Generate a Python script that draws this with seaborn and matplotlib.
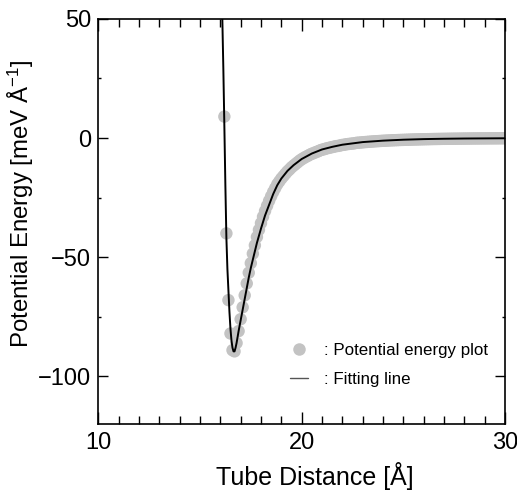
import matplotlib
matplotlib.use("Agg")
import matplotlib.pyplot as plt
import seaborn as sns
import pandas as pd
from matplotlib.ticker import MultipleLocator
from matplotlib.lines import Line2D

# ---- data ----
point_x = [16.2, 16.3, 16.4, 16.5, 16.6, 16.7, 16.8, 16.9, 17.0, 17.1,
           17.2, 17.3, 17.4, 17.5, 17.6, 17.7, 17.8, 17.9, 18.0, 18.1,
           18.2, 18.3, 18.4, 18.5, 18.6, 18.7, 18.8, 18.9, 19.0, 19.1,
           19.2, 19.3, 19.4, 19.5, 19.6, 19.7, 19.8, 19.9, 20.0, 20.1,
           20.2, 20.3, 20.4, 20.5, 20.6, 20.7, 20.8, 20.9, 21.0, 21.1,
           21.2, 21.3, 21.4, 21.5, 21.6, 21.7, 21.8, 21.9, 22.0, 22.1,
           22.2, 22.3, 22.4, 22.5, 22.6, 22.7, 22.8, 22.9, 23.0, 23.1,
           23.2, 23.3, 23.4, 23.5, 23.6, 23.7, 23.8, 23.9, 24.0, 24.1,
           24.2, 24.3, 24.4, 24.5, 24.6, 24.7, 24.8, 24.9, 25.0, 25.1,
           25.2, 25.3, 25.4, 25.5, 25.6, 25.7, 25.8, 25.9, 26.0, 26.1,
           26.2, 26.3, 26.4, 26.5, 26.6, 26.7, 26.8, 26.9, 27.0, 27.1,
           27.2, 27.3, 27.4, 27.5, 27.6, 27.7, 27.8, 27.9, 28.0, 28.1,
           28.2, 28.3, 28.4, 28.5, 28.6, 28.7, 28.8, 28.9, 29.0, 29.1,
           29.2, 29.3, 29.4, 29.5, 29.6, 29.7, 29.8, 29.9, 30.0]
point_y = [9.0, -40.0, -68.0, -82.0, -89.0, -89.5, -86.0, -81.0, -76.0, -71.0,
           -66.0, -61.0, -56.5, -52.5, -48.5, -45.0, -41.5, -38.5, -35.7, -33.0,
           -30.6, -28.4, -26.3, -24.4, -22.6, -21.0, -19.4, -18.2, -17.0, -16.0,
           -15.0, -14.0, -13.2, -12.3, -11.6, -10.9, -10.2, -9.5, -8.9, -8.4,
           -7.9, -7.5, -7.0, -6.6, -6.3, -5.9, -5.6, -5.2, -4.9, -4.7,
           -4.4, -4.2, -4.0, -3.8, -3.6, -3.4, -3.3, -3.1, -2.9, -2.8,
           -2.6, -2.5, -2.4, -2.3, -2.2, -2.0, -1.95, -1.87, -1.79, -1.71,
           -1.64, -1.57, -1.51, -1.44, -1.38, -1.32, -1.27, -1.21, -1.16, -1.11,
           -1.07, -1.02, -0.98, -0.94, -0.90, -0.87, -0.83, -0.80, -0.77, -0.74,
           -0.71, -0.68, -0.65, -0.62, -0.60, -0.58, -0.55, -0.53, -0.51, -0.49,
           -0.47, -0.45, -0.43, -0.41, -0.40, -0.38, -0.37, -0.35, -0.34, -0.33,
           -0.31, -0.30, -0.29, -0.28, -0.27, -0.26, -0.25, -0.24, -0.23, -0.22,
           -0.21, -0.20, -0.19, -0.18, -0.18, -0.17, -0.16, -0.16, -0.15, -0.15,
           -0.14, -0.13, -0.13, -0.12, -0.12, -0.11, -0.11, -0.10, -0.10]

fit_x = [16.06, 16.1, 16.15, 16.2, 16.25, 16.3, 16.35, 16.4, 16.45, 16.5,
         16.55, 16.6, 16.65, 16.7, 16.75, 16.8, 16.85, 16.9, 17.0, 17.1,
         17.2, 17.3, 17.4, 17.5, 17.6, 17.8, 18.0, 18.2, 18.4, 18.6,
         18.8, 19.0, 19.3, 19.6, 20.0, 20.5, 21.0, 21.5, 22.0, 23.0,
         24.0, 25.0, 26.0, 27.0, 28.0, 29.0, 30.0]
fit_y = [70.0, 50.0, 29.0, 5.0, -20.0, -42.0, -55.0, -64.0, -73.0, -80.0,
         -85.0, -88.0, -89.5, -89.5, -88.0, -86.0, -83.5, -81.0, -76.5, -72.0,
         -67.5, -63.0, -58.5, -54.5, -51.0, -44.0, -38.0, -32.5, -28.0, -23.5,
         -19.8, -17.0, -13.8, -11.4, -8.8, -6.5, -4.8, -3.7, -2.8, -1.7,
         -1.1, -0.7, -0.45, -0.3, -0.2, -0.15, -0.1]

x_ticks = [10, 20, 30]
y_ticks = [-100, -50, 0, 50]

points = pd.DataFrame({"x": point_x, "y": point_y})
fit = pd.DataFrame({"x": fit_x, "y": fit_y})

sns.set_style("ticks")
plt.rcParams["font.family"] = ["Liberation Sans", "DejaVu Sans"]
plt.rcParams["mathtext.fontset"] = "custom"
plt.rcParams["mathtext.rm"] = "Liberation Sans"
plt.rcParams["mathtext.it"] = "Liberation Sans"
plt.rcParams["axes.unicode_minus"] = True
for key in ["text.color", "axes.labelcolor", "xtick.color", "ytick.color",
            "axes.edgecolor"]:
    plt.rcParams[key] = "black"

fig = plt.figure(figsize=(5.17, 4.96), dpi=100)
ax = fig.add_axes([0.19, 0.145, 0.787, 0.817])

point_color = "#c3c3c3"
sns.scatterplot(data=points, x="x", y="y", ax=ax, color=point_color, s=80,
                edgecolor="none", linewidth=0, zorder=2, legend=False)
sns.lineplot(data=fit, x="x", y="y", ax=ax, color="black", linewidth=1.4,
             zorder=3, legend=False, sort=False)

ax.set_xlim(10, 30)
ax.set_ylim(-120, 50)
ax.set_xticks(x_ticks)
ax.set_yticks(y_ticks)
ax.xaxis.set_minor_locator(MultipleLocator(1))
ax.yaxis.set_minor_locator(MultipleLocator(25))

ax.tick_params(axis="both", which="both", direction="in", top=True, right=True,
               width=1.0, labelsize=17, colors="black")
ax.tick_params(axis="x", which="major", length=8.5, pad=6)
ax.tick_params(axis="x", which="minor", length=5.5)
ax.tick_params(axis="y", which="major", length=7.5, pad=5)
ax.tick_params(axis="y", which="minor", length=2.5)
for sp in ax.spines.values():
    sp.set_linewidth(1.2)
    sp.set_color("black")

ax.set_xlabel("Tube Distance [Å]", fontsize=18)
ax.set_ylabel(r"Potential Energy [meV Å$^{-1}$]", fontsize=17.3)
ax.xaxis.set_label_coords(0.533, -0.094)
ax.yaxis.set_label_coords(-0.153, 0.543)

handles = [
    Line2D([], [], linestyle="none", marker="o", markersize=9,
           markerfacecolor=point_color, markeredgecolor="none"),
    Line2D([], [], color="#555555", linewidth=1.0),
]
ax.legend(handles, [": Potential energy plot", ": Fitting line"],
          loc="lower right", bbox_to_anchor=(0.995, 0.055), frameon=False,
          fontsize=12.2, handlelength=1.05, handletextpad=0.95, labelspacing=0.8)

fig.savefig("out.png", dpi=100)
